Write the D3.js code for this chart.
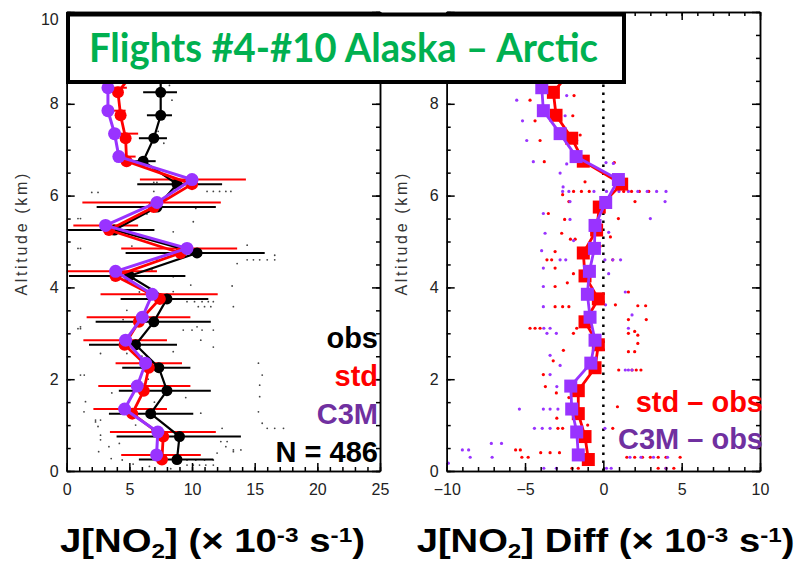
<!DOCTYPE html>
<meta charset="utf-8">
<style>
body { margin: 0; background: #fff; }
svg { display: block; font-family: "Liberation Sans", Arial, sans-serif; }
.axis path, .axis line { stroke: #000; stroke-width: 1.5; }
.axis text { font-size: 16px; fill: #222; font-family: "Liberation Sans", Arial, sans-serif; }
</style>
<svg width="805" height="562"></svg>
<script src="https://d3js.org/d3.v7.min.js"></script>
<script>

// altitude bins (km)
var alt = [0.25, 0.75, 1.25, 1.75, 2.25, 2.75, 3.25, 3.75, 4.25, 4.75, 5.25, 5.75, 6.25, 6.75, 7.25, 7.75, 8.25, 8.75];

// J[NO2] profiles (x 10^-3 s^-1)
var obs   = [8.8, 9.0, 6.7, 8.0, 7.35, 5.5, 6.95, 8.0, 5.0, 10.4, 3.8, 7.2, 8.8, 6.1, 6.95, 7.5, 7.5, 7.5];
var obsLo = [5.76, 3.98, 3.37, 4.16, 4.43, 1.78, 2.31, 4.3, 0.18, 4.7, 0.05, 2.39, 5.63, 5.2, 5.76, 6.4, 6.1, 6.2];
var obsHi = [11.7, 13.9, 10.1, 11.5, 9.87, 8.8, 11.5, 11.3, 9.47, 15.8, 7.0, 11.9, 12.4, 7.1, 8.0, 8.4, 8.8, 8.8];
var std   = [7.6, 7.7, 5.23, 6.15, 6.55, 4.62, 5.76, 7.43, 3.9, 9.08, 3.37, 6.95, 10.0, 4.78, 4.7, 4.3, 4.09, 5.5];
var stdLo = [4.35, 3.45, 2.13, 2.52, 3.9, 1.33, 1.59, 2.7, 0, 4.35, 0.53, 1.25, 5.84, 3.9, 3.64, 3.5, 3.6, 3.5];
var stdHi = [10.7, 11.9, 8.0, 9.87, 9.2, 8.0, 9.87, 12.05, 7.2, 13.6, 5.7, 12.3, 14.3, 5.5, 5.7, 4.7, 4.8, 4.7];
var c3m   = [7.17, 7.27, 4.62, 5.63, 6.29, 4.7, 6.03, 6.82, 3.9, 9.6, 3.1, 7.2, 10.0, 4.16, 3.82, 3.29, 3.29, 3.2];

// model - obs differences
var stdDiff = [-0.96, -1.17, -1.6, -1.6, -0.53, -0.32, -1.17, -0.32, -1.17, -1.28, -0.43, -0.26, 1.17, -1.28, -2.02, -3.02, -3.19, -2.0];
var c3mDiff = [-1.6, -1.7, -2.02, -2.08, -0.8, -0.53, -0.85, -1.02, -0.89, -0.57, -0.53, 0.15, 0.96, -1.74, -2.76, -3.83, -3.93, -4.3];

// individual observations [J, alt]
var obsDots = [[2.0,6.07],[2.5,6.07],[6.95,6.29],[7.2,6.29],[6.95,6.09],[11.2,6.09],[11.7,6.09],[12.2,6.09],[12.7,6.09],[13.1,6.09],
  [10.3,5.72],[7.7,5.9],[0.9,5.5],[1.1,5.5],[10.1,5.43],[8.5,5.21],[14.4,4.92],[0.9,4.85],[1.1,4.85],[14.4,4.6],[14.9,4.6],
  [15.4,4.6],[16.0,4.6],[16.6,4.7],[16.6,4.6],[13.6,4.52],[6.8,4.38],[8.5,4.23],[9.9,4.05],[13.2,4.03],[8.5,3.91],[9.6,3.69],
  [10.2,3.69],[10.8,3.69],[11.3,3.69],[11.7,3.69],[10.5,3.58],[11.0,3.58],[11.5,3.58],[13.3,3.58],[9.3,3.07],[10.0,3.07],
  [10.8,3.07],[11.7,3.07],[0.9,3.1],[1.1,3.1],[5.0,2.96],[1.1,3.14],[10.4,3.14],[2.7,2.56],[4.8,2.56],[10.7,2.85],[11.7,2.7],
  [15.3,2.35],[15.6,2.09],[15.4,1.87],[15.4,1.62],[15.3,1.29],[15.6,1.04],[16.0,0.93],[16.6,0.93],[17.3,0.93],[12.3,0.64],
  [12.8,0.64],[13.3,0.46],[13.9,0.46],[12.0,0.39],[9.6,0.24],[10.3,0.24],[11.0,0.24],[11.7,0.24],[9.6,0.13],[10.1,0.13],
  [10.6,0.13],[11.1,0.13],[11.7,0.13],[1.1,2.09],[1.4,2.09],[1.5,1.51],[2.3,1.11],[2.7,1.11],[2.5,0.97],[2.7,0.78],[3.37,0.53],
  [4.43,0.24],[3.55,0.27],[10.7,1.26],[1.38,1.29],[2.3,1.07],[2.7,0.68],[2.55,0.42],[12.4,0.93],[12.7,0.53],[13.3,0.42],
  [8.4,8.08],[7.75,7.14],[7.3,7.4],[8.2,8.4],[6.0,2.5],[6.5,2.0],[7.0,1.5],[6.2,1.9],[5.5,1.0],[6.8,0.9],[7.5,0.4],[4.8,3.5],
  [5.8,3.9],[7.2,4.6],[6.4,5.6],[5.2,4.9],[4.5,3.3],[8.5,2.6],[9.5,1.6],[3.6,1.7],[4.2,0.6],[8.3,0.05],[6.6,0.1],[5.3,0.15]];

var stdDots = [[-4.68,8.08],[-1.87,8.18],[-4.36,7.63],[-1.95,7.74],[-4.04,7.2],[-1.48,7.32],[-3.77,6.74],[0.7,6.72],
  [-1.17,6.3],[-1.9,6.09],[-1.4,6.09],[-0.9,6.09],[1.3,6.09],[1.8,6.09],[2.3,6.09],[2.9,6.09],[-2.6,6.02],[-2.2,5.87],
  [2.02,5.87],[-3.51,5.61],[-2.47,5.48],[0.96,5.5],[-2.66,5.18],[0.45,5.1],[-2.1,5.05],[-1.8,5.05],[-3.08,4.78],[-3.6,4.6],
  [-3.3,4.6],[0.6,4.6],[-3.08,4.42],[-3.08,4.02],[-1.91,4.3],[1.6,3.9],[-3.08,3.58],[-2.6,3.58],[-2.2,3.58],[0.77,3.62],
  [1.6,3.3],[2.2,3.6],[2.7,3.6],[2.74,3.3],[-4.68,3.11],[-4.36,3.11],[-4.04,3.11],[-1.7,3.11],[2.0,3.04],[-1.91,3.0],
  [1.6,3.0],[2.2,2.96],[2.2,2.78],[-2.55,2.63],[1.6,2.6],[2.0,2.6],[-3.2,2.4],[1.83,2.2],[2.1,2.2],[2.4,2.2],[0.98,2.2],
  [-3.83,2.1],[-3.7,1.84],[0.9,1.4],[-2.97,1.15],[-2.9,0.93],[-2.6,0.93],[0.6,0.93],[-5.6,0.46],[-5.3,0.46],[-5.2,0.3],
  [-4.8,0.3],[-4.0,0.4],[-3.4,0.4],[-2.8,0.4],[1.5,0.3],[2.0,0.3],[2.5,0.3],[3.0,0.3],[3.5,0.3],[4.0,0.3],[4.9,0.3],
  [3.5,0.06],[4.0,0.06],[4.5,0.06],[-2.0,0.06],[-1.6,0.06],[-2.2,1.6],[-1.0,1.0],[-0.5,2.7],[-3.0,1.7],[-1.3,3.8],
  [-2.3,4.1],[-0.2,4.9]];

var c3mDots = [[-5.53,8.08],[-2.34,8.18],[-5.16,7.63],[-2.44,7.74],[-4.89,7.2],[-1.7,7.2],[-4.47,6.74],[-2.34,6.69],
  [0.17,6.72],[0.64,6.7],[-2.76,6.49],[-2.57,6.19],[-2.6,6.09],[-2.2,6.09],[-0.6,6.09],[0.2,6.09],[1.0,6.09],[1.6,6.09],
  [2.2,6.09],[2.8,6.09],[3.4,6.09],[4.0,6.09],[-2.13,5.87],[3.94,5.87],[-3.83,5.61],[-2.13,5.48],[3.0,5.5],[-3.72,5.18],
  [0.34,5.2],[-1.9,5.02],[-3.94,4.8],[-2.76,4.6],[-2.4,4.6],[0.1,4.6],[0.6,4.6],[1.1,4.6],[-3.83,4.42],[-3.83,4.02],
  [0.34,4.3],[1.4,3.9],[-3.83,3.58],[0.14,3.62],[1.83,3.4],[-3.8,3.11],[-3.4,3.11],[1.6,3.11],[-3.6,3.0],[-3.0,3.0],
  [-3.4,2.52],[-2.76,2.3],[1.4,2.2],[1.6,2.2],[1.83,2.2],[-3.4,2.1],[-2.97,1.84],[-5.36,1.35],[-3.83,1.35],[-3.4,1.35],
  [-2.9,1.35],[-4.4,0.93],[-3.9,0.93],[-3.4,0.93],[0.1,0.93],[-7.15,0.6],[-6.5,0.6],[-9.0,0.46],[-8.6,0.46],[-8.5,0.3],
  [-7.1,0.3],[1.7,0.3],[2.4,0.3],[3.2,0.3],[4.1,0.3],[-3.8,0.06],[-3.0,0.06],[0.2,0.06],[0.5,0.06],[4.0,0.06],[-9.9,0.17]];

var xTicksL = [0, 5, 10, 15, 20, 25],
    xTicksR = [-10, -5, 0, 5, 10],
    yTicksL = [0, 2, 4, 6, 8, 10],
    yTicksR = [0, 2, 4, 6, 8];   // the 10 label sits under the title box

var red = "#ff0000", purple = "#9933ff", purpleText = "#7030a0", green = "#00b050";

var svg = d3.select("svg");

var y = d3.scaleLinear().domain([0, 10]).range([471, 12]);
var xL = d3.scaleLinear().domain([0, 25]).range([66.7, 380]);
var xR = d3.scaleLinear().domain([-10, 10]).range([446.7, 760]);

function frame(x, major, yLabels, labelX) {
  var g = svg.append("g");
  var x0 = x.range()[0], x1 = x.range()[1];
  var minor = d3.range(x.domain()[0], x.domain()[1] + 0.01, 1);
  var yMajor = d3.range(0, 10.01, 2);
  var yMinor = d3.range(0, 10.01, 0.5);
  var fmt = function(d) { return d3.format("d")(d).replace("-", "\u2212"); };

  g.append("g").attr("class", "axis").attr("transform", "translate(0," + y(0) + ")")
      .call(d3.axisBottom(x).tickValues(minor).tickSizeInner(-4).tickSizeOuter(0).tickFormat(""));
  g.append("g").attr("class", "axis").attr("transform", "translate(0," + y(0) + ")")
      .call(d3.axisBottom(x).tickValues(major).tickSizeInner(-8).tickSizeOuter(0).tickPadding(13).tickFormat(fmt));
  g.append("g").attr("class", "axis").attr("transform", "translate(0," + y(10) + ")")
      .call(d3.axisTop(x).tickValues(minor).tickSizeInner(-4).tickSizeOuter(0).tickFormat(""));
  g.append("g").attr("class", "axis").attr("transform", "translate(0," + y(10) + ")")
      .call(d3.axisTop(x).tickValues(major).tickSizeInner(-8).tickSizeOuter(0).tickFormat(""));

  g.append("g").attr("class", "axis").attr("transform", "translate(" + x0 + ",0)")
      .call(d3.axisLeft(y).tickValues(yMinor).tickSizeInner(-4).tickSizeOuter(0).tickFormat(""));
  g.append("g").attr("class", "axis").attr("transform", "translate(" + x0 + ",0)")
      .call(d3.axisLeft(y).tickValues(yMajor).tickSizeInner(-8).tickSizeOuter(0).tickFormat(""));
  var ya = g.append("g").attr("class", "axis").attr("transform", "translate(" + x0 + ",0)")
      .call(d3.axisLeft(y).tickValues(yLabels).tickSize(0).tickPadding(8).tickFormat(d3.format("d")));
  ya.select(".domain").remove();
  // top label sits a little below the frame corner
  ya.selectAll(".tick text").filter(function(d) { return d === 10; }).attr("y", 7);
  g.append("g").attr("class", "axis").attr("transform", "translate(" + x1 + ",0)")
      .call(d3.axisRight(y).tickValues(yMinor).tickSizeInner(-4).tickSizeOuter(0).tickFormat(""));
  g.append("g").attr("class", "axis").attr("transform", "translate(" + x1 + ",0)")
      .call(d3.axisRight(y).tickValues(yMajor).tickSizeInner(-8).tickSizeOuter(0).tickFormat(""));

  g.append("text")
      .attr("transform", "translate(" + labelX + "," + y(5.15) + ") rotate(-90)")
      .attr("text-anchor", "middle")
      .attr("textLength", 122)
      .attr("lengthAdjust", "spacing")
      .style("font-size", "16px")
      .style("fill", "#333")
      .text("Altitude (km)");
}

// ---------- left panel ----------
var left = svg.append("g");

left.selectAll(".dot").data(obsDots).enter().append("circle")
    .attr("cx", function(d) { return xL(d[0]); })
    .attr("cy", function(d) { return y(d[1]); })
    .attr("r", 0.9)
    .attr("fill", "#444");

left.selectAll(".ebo").data(alt).enter().append("line")
    .attr("x1", function(d, i) { return xL(obsLo[i]); })
    .attr("x2", function(d, i) { return xL(obsHi[i]); })
    .attr("y1", function(d) { return y(d); })
    .attr("y2", function(d) { return y(d); })
    .attr("stroke", "#000").attr("stroke-width", 2);

left.selectAll(".ebs").data(alt).enter().append("line")
    .attr("x1", function(d, i) { return xL(stdLo[i]); })
    .attr("x2", function(d, i) { return xL(stdHi[i]); })
    .attr("y1", function(d) { return y(d + 0.1); })
    .attr("y2", function(d) { return y(d + 0.1); })
    .attr("stroke", red).attr("stroke-width", 2);

function profile(g, x, vals, dy, color, width, r) {
  var line = d3.line()
      .x(function(d) { return x(d); })
      .y(function(d, i) { return y(alt[i] + dy); });
  g.append("path").datum(vals)
      .attr("d", line)
      .attr("fill", "none")
      .attr("stroke", color)
      .attr("stroke-width", width);
  g.selectAll(null).data(vals).enter().append("circle")
      .attr("cx", function(d) { return x(d); })
      .attr("cy", function(d, i) { return y(alt[i] + dy); })
      .attr("r", r)
      .attr("fill", color);
}

profile(left, xL, obs, 0, "#000", 2.2, 5.5);
profile(left, xL, std, 0, red, 2.8, 6);
profile(left, xL, c3m, 0.1, purple, 3, 6.5);

frame(xL, xTicksL, yTicksL, 27);

var legL = [["obs", "#000"], ["std", red], ["C3M", purpleText], ["N = 486", "#000"]];
svg.selectAll(".legL").data(legL).enter().append("text")
    .attr("x", 378)
    .attr("y", function(d, i) { return 348 + i * 38; })
    .attr("text-anchor", "end")
    .style("font-size", "29px")
    .style("font-weight", "bold")
    .style("fill", function(d) { return d[1]; })
    .text(function(d) { return d[0]; });

// ---------- right panel ----------
var right = svg.append("g");

right.append("line")
    .attr("x1", xR(0)).attr("x2", xR(0))
    .attr("y1", y(0)).attr("y2", y(10))
    .attr("stroke", "#000").attr("stroke-width", 2.5)
    .attr("stroke-dasharray", "2.5,5.5");

right.selectAll(".sd").data(stdDots).enter().append("circle")
    .attr("cx", function(d) { return xR(d[0]); })
    .attr("cy", function(d) { return y(d[1]); })
    .attr("r", 1.6).attr("fill", red);
right.selectAll(".cd").data(c3mDots).enter().append("circle")
    .attr("cx", function(d) { return xR(d[0]); })
    .attr("cy", function(d) { return y(d[1]); })
    .attr("r", 1.6).attr("fill", purple);

function squares(g, vals, dy, color) {
  var line = d3.line()
      .x(function(d) { return xR(d); })
      .y(function(d, i) { return y(alt[i] + dy); });
  g.append("path").datum(vals)
      .attr("d", line)
      .attr("fill", "none")
      .attr("stroke", color)
      .attr("stroke-width", 2.8);
  g.selectAll(null).data(vals).enter().append("rect")
      .attr("x", function(d) { return xR(d) - 6.5; })
      .attr("y", function(d, i) { return y(alt[i] + dy) - 6.5; })
      .attr("width", 13).attr("height", 13)
      .attr("fill", color);
}

squares(right, stdDiff, 0, red);
squares(right, c3mDiff, 0.1, purple);

frame(xR, xTicksR, yTicksR, 407);

var legR = [["std \u2013 obs", red], ["C3M \u2013 obs", purpleText]];
svg.selectAll(".legR").data(legR).enter().append("text")
    .attr("x", 763)
    .attr("y", function(d, i) { return 412 + i * 36.5; })
    .attr("text-anchor", "end")
    .style("font-size", "29px")
    .style("font-weight", "bold")
    .style("fill", function(d) { return d[1]; })
    .text(function(d) { return d[0]; });

// ---------- title box ----------
svg.append("rect")
    .attr("x", 68).attr("y", 14.5)
    .attr("width", 556).attr("height", 67.5)
    .attr("fill", "#fff")
    .attr("stroke", "#000")
    .attr("stroke-width", 4);

svg.append("text")
    .attr("x", 89).attr("y", 62)
    .attr("textLength", 509)
    .attr("lengthAdjust", "spacingAndGlyphs")
    .style("font-family", "Lato, 'Open Sans', sans-serif")
    .style("font-weight", "bold")
    .style("font-size", "41px")
    .style("fill", green)
    .text("Flights #4-#10 Alaska \u2013 Arctic");

// ---------- x axis titles ----------
function xTitle(x0, width, pre) {
  var g = svg.append("g");
  var t = g.append("text")
      .style("font-size", "33px")
      .style("font-weight", "bold")
      .style("fill", "#000");
  t.append("tspan").text("J[NO");
  t.append("tspan").attr("dy", 6).style("font-size", "21px").text("2");
  t.append("tspan").attr("dy", -6).text(pre + " (\u00d7 10");
  t.append("tspan").attr("dy", -10).style("font-size", "21px").text("-3");
  t.append("tspan").attr("dy", 10).text(" s");
  t.append("tspan").attr("dy", -10).style("font-size", "21px").text("-1");
  t.append("tspan").attr("dy", 10).text(")");
  var w = t.node().getComputedTextLength();
  g.attr("transform", "translate(" + x0 + ",552) scale(" + (width / w) + ",1)");
}

xTitle(60, 305, "]");
xTitle(416.7, 378, "] Diff");

</script>
